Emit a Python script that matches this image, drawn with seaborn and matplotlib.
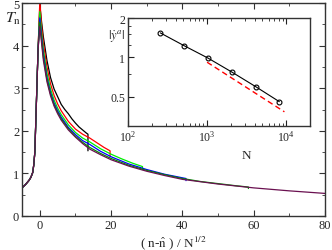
import numpy as np
import pandas as pd
import matplotlib
matplotlib.use("Agg")
import matplotlib.pyplot as plt
import seaborn as sns
from matplotlib.ticker import MultipleLocator, FixedLocator, NullFormatter

# ─── Data ──────────────────────────────────────────────────────────────────────

SIZES = [256, 512, 1024, 2048, 4096, 8192]
COLORS = ["#000000", "#ff0000", "#00ee00", "#0000ff", "#008b00", "#6a1050"]

# shared rising branch before the peak
RISE_X = [-5, -4, -3, -2.5, -2, -1.7, -1.4, -1.1, -0.8, -0.5]
RISE_Y = [0.66, 0.74, 0.84, 0.91, 1.02, 1.2, 1.5, 2.3, 3.1, 3.9]

DECAY_X = {
    256: [0, 0.5, 1, 2, 3, 4, 5, 6, 7, 8, 9, 10, 11, 12, 13, 13.5, 13.5],
    512: [0, 0.5, 1, 2, 3, 4, 5, 6, 8, 10, 12, 14, 16, 18, 19.7, 19.7],
    1024: [0, 0.5, 1, 2, 3, 4, 5, 6, 8, 10, 12, 14, 17, 20, 23, 26, 28.8, 28.8],
    2048: [0, 0.5, 1, 2, 3, 4, 5, 6, 8, 10, 12, 14, 17, 20, 25, 30, 35, 41, 41],
    4096: [0, 0.5, 1, 2, 3, 4, 5, 6, 8, 10, 12, 14, 17, 20, 25, 30, 35, 40,
           45, 50, 55, 58.5, 58.5],
    8192: [0, 0.5, 1, 2, 3, 4, 5, 6, 8, 10, 12, 14, 17, 20, 25, 30, 35, 40,
           50, 60, 70, 80],
}
DECAY_Y = {
    256: [4.95, 4.55, 4.2, 3.65, 3.25, 2.98, 2.8, 2.62, 2.5, 2.4, 2.28, 2.18,
          2.09, 2.02, 1.95, 1.92, 1.53],
    512: [5.05, 4.45, 4.05, 3.5, 3.1, 2.83, 2.63, 2.47, 2.22, 2.04, 1.92, 1.83,
          1.72, 1.61, 1.53, 1.40],
    1024: [4.8, 4.3, 3.9, 3.35, 2.98, 2.72, 2.53, 2.38, 2.14, 1.96, 1.83, 1.74,
           1.58, 1.45, 1.34, 1.24, 1.16, 1.09],
    2048: [4.65, 4.2, 3.8, 3.25, 2.9, 2.65, 2.47, 2.32, 2.08, 1.91, 1.77, 1.68,
           1.52, 1.39, 1.22, 1.09, 0.98, 0.88, 0.83],
    4096: [4.55, 4.12, 3.72, 3.2, 2.86, 2.61, 2.43, 2.28, 2.05, 1.87, 1.73, 1.61,
           1.47, 1.35, 1.19, 1.07, 0.97, 0.88, 0.81, 0.76, 0.71, 0.68, 0.645],
    8192: [4.45, 4.05, 3.65, 3.15, 2.82, 2.58, 2.4, 2.25, 2.02, 1.85, 1.7, 1.57,
           1.44, 1.32, 1.17, 1.05, 0.95, 0.86, 0.75, 0.66, 0.59, 0.53],
}

# inset: amplitude vs system size
INSET_N = [256, 512, 1024, 2048, 4096, 8192]
INSET_Y = [1.54, 1.23, 0.99, 0.775, 0.60, 0.46]
FIT_N = [1000, 9500]
FIT_Y = [0.92, 0.385]

# ─── Style ─────────────────────────────────────────────────────────────────────

sns.set_style("ticks")
plt.rcParams["font.family"] = ["Liberation Serif", "DejaVu Serif"]
plt.rcParams["mathtext.fontset"] = "stix"
plt.rcParams["axes.edgecolor"] = "#333333"
plt.rcParams["axes.linewidth"] = 1.0

rows = []
for n in SIZES:
    xs = RISE_X + DECAY_X[n]
    ys = RISE_Y + DECAY_Y[n]
    for i, (x, y) in enumerate(zip(xs, ys)):
        rows.append({"N": n, "x": x, "T": y, "order": i})
df = pd.DataFrame(rows)

fig = plt.figure(figsize=(3.32, 2.51), dpi=100)
ax = fig.add_axes([0.0663, 0.1355, 0.9127, 0.8485])

sns.lineplot(data=df, x="x", y="T", hue="N", palette=COLORS, sort=False,
             estimator=None, units="N", legend=False, lw=0.9, ax=ax)

ax.set_xlim(-5, 80)
ax.set_ylim(0, 5)
ax.set_xticks([0, 20, 40, 60, 80])
ax.xaxis.set_minor_locator(MultipleLocator(10))
ax.set_yticks([0, 1, 2, 3, 4, 5])
ax.yaxis.set_minor_locator(MultipleLocator(0.5))
ax.tick_params(which="both", direction="in", top=True, right=True,
               labelsize=9, pad=2, color="#333333")
ax.tick_params(which="major", length=4)
ax.tick_params(which="minor", length=2)
ax.set_xlabel("")
ax.set_ylabel("")

fig.text(0.015, 0.925, r"$T_{\rm n}$", fontsize=11.5, va="center")
fig.text(0.523, 0.032, r"( n-$\hat{\rm n}$ ) / N$^{1/2}$", fontsize=9.5,
         ha="center", va="center")

# ─── Inset ─────────────────────────────────────────────────────────────────────

axin = fig.add_axes([0.3855, 0.494, 0.5482, 0.4303])
sns.lineplot(x=INSET_N, y=INSET_Y, color="black", lw=0.8, marker="o",
             markersize=3.5, markerfacecolor="none", markeredgecolor="black",
             markeredgewidth=0.8, ax=axin)
sns.lineplot(x=FIT_N, y=FIT_Y, color="red", lw=1.0, linestyle=(0, (4, 2.5)),
             ax=axin)

axin.set_xscale("log")
axin.set_yscale("log")
axin.set_xlim(100, 2.0e4)
axin.set_ylim(0.3, 2)
axin.yaxis.set_major_locator(FixedLocator([0.5, 1, 2]))
axin.set_yticklabels(["0.5", "1", "2"])
axin.yaxis.set_minor_locator(FixedLocator([0.75, 1.25, 1.5, 1.75]))
axin.yaxis.set_minor_formatter(NullFormatter())
axin.tick_params(which="both", direction="in", top=True, right=False,
                 labelsize=8.5, pad=2, color="#222222")
axin.tick_params(which="major", length=4)
axin.tick_params(which="minor", length=2)
axin.set_xlabel("N", fontsize=9.5)
axin.xaxis.set_label_coords(0.65, -0.21)
axin.set_ylabel("")
axin.text(-0.065, 0.84, r"$|\dot{y}^{a}|$", transform=axin.transAxes,
          fontsize=9, ha="center", va="center")

fig.savefig("out.png", dpi=100)
